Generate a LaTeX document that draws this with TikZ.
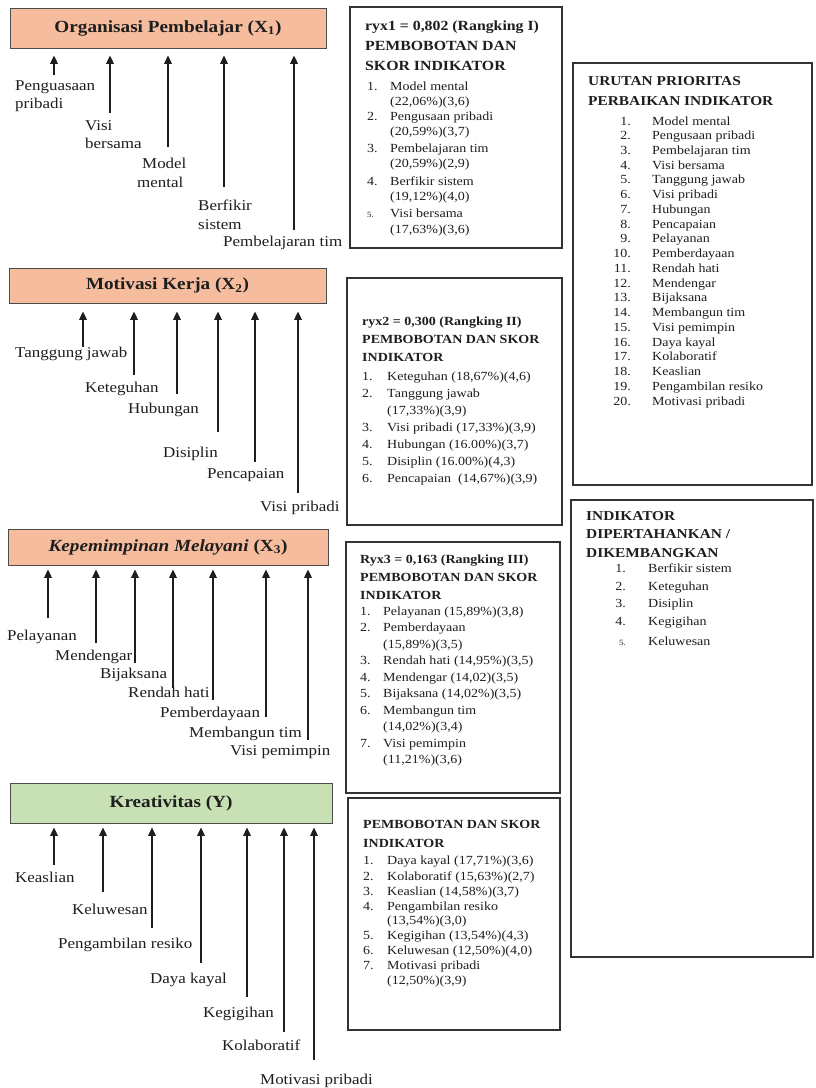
\documentclass[tikz,border=0pt]{standalone}
\usepackage{fontspec}
\setmainfont{Liberation Serif}[FakeStretch=1.13]
\usetikzlibrary{arrows.meta}
\definecolor{salmon}{RGB}{246,188,158}
\definecolor{mint}{RGB}{199,225,180}
\definecolor{ink}{RGB}{30,30,30}
\begin{document}
\begin{tikzpicture}[x=1pt,y=-1pt,
 lbl/.style={font=\fontsize{15}{18}\selectfont, inner sep=0pt, anchor=base west, text=ink},
 itm/.style={font=\fontsize{12.4}{15}\selectfont, inner sep=0pt, anchor=base west, text=ink},
 num/.style={font=\fontsize{12.4}{15}\selectfont, inner sep=0pt, anchor=base east, text=ink},
 hdrA/.style={font=\bfseries\fontsize{14}{20}\selectfont, inner sep=0pt, anchor=base west, text=ink},
 hdr/.style={font=\bfseries\fontsize{12.4}{18}\selectfont, inner sep=0pt, anchor=base west, text=ink},
 hdrE/.style={font=\bfseries\fontsize{13.6}{20}\selectfont, inner sep=0pt, anchor=base west, text=ink},
 var/.style={draw=black!70, line width=0.9pt, inner sep=0pt, text=ink, font=\bfseries\fontsize{17}{20}\selectfont},
 panel/.style={draw=black!80, line width=1.3pt, inner sep=0pt},
 arr/.style={-{Triangle[length=8.5pt,width=7.5pt]}, line width=2.1pt, draw=ink},
]
\useasboundingbox[fill=white] (0,0) rectangle (815,1088);

% ---------- variable boxes ----------
\node[var, fill=salmon, minimum width=316pt, minimum height=40pt] (t1) at (168,28) {Organisasi Pembelajar (X\textsubscript{1})};
\node[var, fill=salmon, minimum width=317pt, minimum height=35pt] (t2) at (167.5,285.5) {Motivasi Kerja (X\textsubscript{2})};
\node[var, fill=salmon, minimum width=320pt, minimum height=36pt] (t3) at (168,547) {{\itshape Kepemimpinan Melayani} (X\textsubscript{3})};
\node[var, fill=mint, minimum width=322pt, minimum height=40pt] (t4) at (171,803) {Kreativitas (Y)};

% ---------- arrows ----------
\foreach \i/\x/\y in {1/54/75,2/110/113,3/168/147,4/224/187,5/294/230}{
  \coordinate (g1s\i) at (\x,\y);
  \draw[arr, shorten >=7pt] (g1s\i) -- (g1s\i |- t1.south);
}
\foreach \i/\x/\y in {1/83/347,2/134/375,3/177/394,4/218/432,5/255/462,6/298/493}{
  \coordinate (g2s\i) at (\x,\y);
  \draw[arr, shorten >=8pt] (g2s\i) -- (g2s\i |- t2.south);
}
\foreach \i/\x/\y in {1/48/618,2/96/643,3/135/663,4/173/688,5/213/700,6/266/717,7/308/740}{
  \coordinate (g3s\i) at (\x,\y);
  \draw[arr, shorten >=4pt] (g3s\i) -- (g3s\i |- t3.south);
}
\foreach \i/\x/\y in {1/54/865,2/103/892,3/152/928,4/201/963,5/247/997,6/284/1032,7/314/1060}{
  \coordinate (g4s\i) at (\x,\y);
  \draw[arr, shorten >=4pt] (g4s\i) -- (g4s\i |- t4.south);
}

% ---------- labels ----------
\node[lbl] (l1a) at (15,90) {Penguasaan};
\node[lbl] (l1b) at (15,108) {pribadi};
\node[lbl] (l2a) at (85,130) {Visi};
\node[lbl] (l2b) at (85,148) {bersama};
\node[lbl] (l3a) at (142,168) {Model};
\node[lbl] (l3b) at (137,187) {mental};
\node[lbl] (l4a) at (198,210) {Berfikir};
\node[lbl] (l4b) at (198,229) {sistem};
\node[lbl] (l5) at (223,246) {Pembelajaran tim};

\node[lbl] (m1) at (15,357) {Tanggung jawab};
\node[lbl] (m2) at (85,392) {Keteguhan};
\node[lbl] (m3) at (128,413) {Hubungan};
\node[lbl] (m4) at (163,457) {Disiplin};
\node[lbl] (m5) at (207,478) {Pencapaian};
\node[lbl] (m6) at (260,511) {Visi pribadi};

\node[lbl] (k1) at (7,640) {Pelayanan};
\node[lbl] (k2) at (55,660) {Mendengar};
\node[lbl] (k3) at (100,678) {Bijaksana};
\node[lbl] (k4) at (128,697) {Rendah hati};
\node[lbl] (k5) at (160,717) {Pemberdayaan};
\node[lbl] (k6) at (189,737) {Membangun tim};
\node[lbl] (k7) at (230,755) {Visi pemimpin};

\node[lbl] (c1) at (15,882) {Keaslian};
\node[lbl] (c2) at (72,914) {Keluwesan};
\node[lbl] (c3) at (58,948) {Pengambilan resiko};
\node[lbl] (c4) at (150,983) {Daya kayal};
\node[lbl] (c5) at (203,1017) {Kegigihan};
\node[lbl] (c6) at (222,1050) {Kolaboratif};
\node[lbl] (c7) at (260,1084) {Motivasi pribadi};

% ---------- panels ----------
\node[panel, minimum width=212pt, minimum height=241pt] (pA) at (456,127.5) {};
\node[panel, minimum width=215pt, minimum height=247pt] (pB) at (454.5,401.5) {};
\node[panel, minimum width=214pt, minimum height=251pt] (pC) at (453,667.5) {};
\node[panel, minimum width=212pt, minimum height=232pt] (pD) at (454,914) {};
\node[panel, minimum width=239pt, minimum height=422pt] (pE) at (692.5,274) {};
\node[panel, minimum width=242pt, minimum height=457pt] (pF) at (692,728.5) {};

% Panel A
\node[hdrA] (a1) at (365,30) {ryx1 = 0,802 (Rangking I)};
\node[hdrA] (a2) at (365,50) {PEMBOBOTAN DAN};
\node[hdrA] (a3) at (365,70) {SKOR INDIKATOR};
\foreach \y/\n/\t [count=\i] in {90/1./{Model mental},105/{}/{(22,06\%)(3,6)},120/2./{Pengusaan pribadi},135/{}/{(20,59\%)(3,7)},152/3./{Pembelajaran tim},167/{}/{(20,59\%)(2,9)},185/4./{Berfikir sistem},200/{}/{(19,12\%)(4,0)},217/{\fontsize{8}{8}\selectfont 5.}/{Visi bersama},233/{}/{(17,63\%)(3,6)}}{
  \node[itm] (an\i) at (367,\y) {\n};
  \node[itm] (at\i) at (390,\y) {\t};
}

% Panel B
\node[hdr] (b1) at (362,325) {ryx2 = 0,300 (Rangking II)};
\node[hdr] (b2) at (362,343) {PEMBOBOTAN DAN SKOR};
\node[hdr] (b3) at (362,361) {INDIKATOR};
\foreach \y/\n/\t [count=\i] in {380/1./{Keteguhan (18,67\%)(4,6)},397/2./{Tanggung jawab},414/{}/{(17,33\%)(3,9)},431/3./{Visi pribadi (17,33\%)(3,9)},448/4./{Hubungan (16.00\%)(3,7)},465/5./{Disiplin (16.00\%)(4,3)},482/6./{Pencapaian\ \ (14,67\%)(3,9)}}{
  \node[itm] (bn\i) at (362,\y) {\n};
  \node[itm] (bt\i) at (387,\y) {\t};
}

% Panel C
\node[hdr] (cc1) at (360,563) {Ryx3 = 0,163 (Rangking III)};
\node[hdr] (cc2) at (360,581) {PEMBOBOTAN DAN SKOR};
\node[hdr] (cc3) at (360,599) {INDIKATOR};
\foreach \y/\n/\t [count=\i] in {615/1./{Pelayanan (15,89\%)(3,8)},631.5/2./{Pemberdayaan},648/{}/{(15,89\%)(3,5)},664.5/3./{Rendah hati (14,95\%)(3,5)},681/4./{Mendengar (14,02)(3,5)},697.5/5./{Bijaksana (14,02\%)(3,5)},714/6./{Membangun tim},730.5/{}/{(14,02\%)(3,4)},747/7./{Visi pemimpin},763.5/{}/{(11,21\%)(3,6)}}{
  \node[itm] (cn\i) at (360,\y) {\n};
  \node[itm] (ct\i) at (383,\y) {\t};
}

% Panel D
\node[hdr] (d1) at (363,828) {PEMBOBOTAN DAN SKOR};
\node[hdr] (d2) at (363,847) {INDIKATOR};
\foreach \y/\n/\t [count=\i] in {864/1./{Daya kayal (17,71\%)(3,6)},880/2./{Kolaboratif (15,63\%)(2,7)},895/3./{Keaslian (14,58\%)(3,7)},910/4./{Pengambilan resiko},924/{}/{(13,54\%)(3,0)},939/5./{Kegigihan (13,54\%)(4,3)},954/6./{Keluwesan (12,50\%)(4,0)},969/7./{Motivasi pribadi},984/{}/{(12,50\%)(3,9)}}{
  \node[itm] (dn\i) at (363,\y) {\n};
  \node[itm] (dt\i) at (387,\y) {\t};
}

% Panel E
\node[hdrE] (e1) at (588,85) {URUTAN PRIORITAS};
\node[hdrE] (e2) at (588,105) {PERBAIKAN INDIKATOR};
\foreach \t [count=\i] in {Model mental,Pengusaan pribadi,Pembelajaran tim,Visi bersama,Tanggung jawab,Visi pribadi,Hubungan,Pencapaian,Pelayanan,Pemberdayaan,Rendah hati,Mendengar,Bijaksana,Membangun tim,Visi pemimpin,Daya kayal,Kolaboratif,Keaslian,Pengambilan resiko,Motivasi pribadi}{
  \node[num] (en\i) at (631,{125+14.74*(\i-1)}) {\i.};
  \node[itm] (et\i) at (652,{125+14.74*(\i-1)}) {\t};
}

% Panel F
\node[hdrE] (f1) at (586,520) {INDIKATOR};
\node[hdrE] (f2) at (586,538.5) {DIPERTAHANKAN /};
\node[hdrE] (f3) at (586,557) {DIKEMBANGKAN};
\foreach \y/\n/\t [count=\i] in {572/1./{Berfikir sistem},590/2./{Keteguhan},607/3./{Disiplin},625/4./{Kegigihan},645/{\fontsize{8}{8}\selectfont 5.}/{Keluwesan}}{
  \node[num] (fn\i) at (626,\y) {\n};
  \node[itm] (ft\i) at (648,\y) {\t};
}
\end{tikzpicture}
\end{document}
